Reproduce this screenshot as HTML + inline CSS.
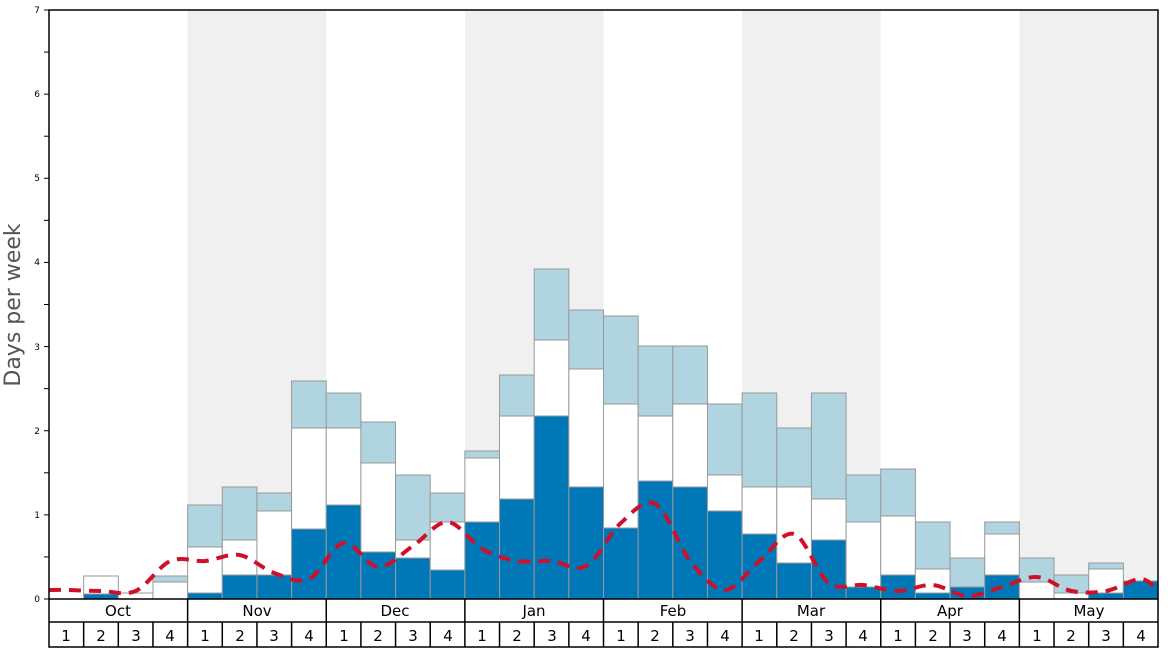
<!DOCTYPE html>
<html><head><meta charset="utf-8"><style>
body{margin:0;background:#fff}
svg{display:block;font-family:"DejaVu Sans","Liberation Sans",sans-serif}
</style></head><body>
<svg id="s" width="1168" height="648" viewBox="0 0 1168 648">
<g id="bg"></g><g id="bars"></g><g id="ln"></g><g id="ax"></g>
<text x="20" y="305" font-size="22" fill="#555" text-anchor="middle" transform="rotate(-90 20 305)">Days per week</text>
<g font-size="9" text-anchor="end" fill="#000">
<text x="40" y="602">0</text><text x="40" y="518">1</text><text x="40" y="434">2</text><text x="40" y="350">3</text><text x="40" y="265">4</text><text x="40" y="181">5</text><text x="40" y="97">6</text><text x="40" y="13">7</text>
</g>
<g font-size="15" text-anchor="middle" fill="#000">
<text x="118" y="616">Oct</text><text x="257" y="616">Nov</text><text x="395" y="616">Dec</text><text x="534" y="616">Jan</text><text x="673" y="616">Feb</text><text x="811" y="616">Mar</text><text x="950" y="616">Apr</text><text x="1089" y="616">May</text>
</g>
<g id="wk" font-size="15" text-anchor="middle" fill="#000">
<text x="66" y="641">1</text><text x="101" y="641">2</text><text x="136" y="641">3</text><text x="170" y="641">4</text>
<text x="205" y="641">1</text><text x="240" y="641">2</text><text x="274" y="641">3</text><text x="309" y="641">4</text>
<text x="344" y="641">1</text><text x="378" y="641">2</text><text x="413" y="641">3</text><text x="448" y="641">4</text>
<text x="482" y="641">1</text><text x="517" y="641">2</text><text x="552" y="641">3</text><text x="586" y="641">4</text>
<text x="621" y="641">1</text><text x="655" y="641">2</text><text x="690" y="641">3</text><text x="725" y="641">4</text>
<text x="759" y="641">1</text><text x="794" y="641">2</text><text x="829" y="641">3</text><text x="863" y="641">4</text>
<text x="898" y="641">1</text><text x="933" y="641">2</text><text x="967" y="641">3</text><text x="1002" y="641">4</text>
<text x="1037" y="641">1</text><text x="1071" y="641">2</text><text x="1106" y="641">3</text><text x="1141" y="641">4</text>
</g>
</svg>
<script>
var NS="http://www.w3.org/2000/svg";
function el(p,t,a){var e=document.createElementNS(NS,t);for(var k in a)e.setAttribute(k,a[k]);document.getElementById(p).appendChild(e);return e;}
var W=1109/32,X=function(i){return 49+i*W;};
[1,3,5,7].forEach(function(m){el("bg","rect",{x:X(m*4),y:10,width:W*4,height:589,fill:"#f0f0f0"});});
// [darkTop, whiteTop, lightTop] in pixel y (599 = none)
var d=[[599,599,599],[594,576,576],[599,593,593],[599,582,576],
[593,547,505],[575,540,487],[575,511,493],[529,428,381],
[505,428,393],[552,463,422],[558,540,475],[570,522,493],
[522,458,451],[499,416,375],[416,340,269],[487,369,310],
[528,404,316],[481,416,346],[487,404,346],[511,475,404],
[534,487,393],[563,487,428],[540,499,393],[587,522,475],
[575,516,469],[593,569,522],[587,587,558],[575,534,522],
[599,582,558],[599,593,575],[593,569,563],[581,581,581]];
d.forEach(function(v,i){var x=X(i);
if(v[2]<v[1])el("bars","rect",{x:x,y:v[2],width:W,height:v[1]-v[2],fill:"#b0d4e0",stroke:"#999","stroke-width":1});
if(v[1]<v[0])el("bars","rect",{x:x,y:v[1],width:W,height:v[0]-v[1],fill:"#fff",stroke:"#999","stroke-width":1});
if(v[0]<599)el("bars","rect",{x:x,y:v[0],width:W,height:599-v[0],fill:"#0077b6",stroke:"#999","stroke-width":1});
});
var ly=[590,591,591,561,561,555,573,579,543,567,546,522,549,561,561,566,523,504,561,590,561,534,583,585,591,585,596,587,577,591,591,579];
var pts=[[49,590]];ly.forEach(function(y,i){pts.push([X(i)+W/2,y]);});pts.push([1158,591]);
var p="M"+pts[0][0]+","+pts[0][1];
for(var i=0;i<pts.length-1;i++){var p0=pts[Math.max(0,i-1)],p1=pts[i],p2=pts[i+1],p3=pts[Math.min(pts.length-1,i+2)];
var c1=[p1[0]+(p2[0]-p0[0])/6,p1[1]+(p2[1]-p0[1])/6],c2=[p2[0]-(p3[0]-p1[0])/6,p2[1]-(p3[1]-p1[1])/6];
p+=" C"+c1+" "+c2+" "+p2;}
el("ln","path",{d:p,fill:"none",stroke:"#d0102a","stroke-width":4,"stroke-dasharray":"12,8"});
el("ax","rect",{x:49,y:10,width:1109,height:637,fill:"none",stroke:"#000","stroke-width":1.5});
el("ax","line",{x1:49,y1:599,x2:1158,y2:599,stroke:"#000","stroke-width":1.5});
el("ax","line",{x1:49,y1:622,x2:1158,y2:622,stroke:"#000","stroke-width":1.5});
for(var i=1;i<32;i++){var x=X(i);el("ax","line",{x1:x,y1:i%4==0?599:622,x2:x,y2:647,stroke:"#000","stroke-width":1.5});}
for(var t=0;t<=14;t++){var y=599-t*589/14;el("ax","line",{x1:44,y1:y,x2:49,y2:y,stroke:"#000","stroke-width":1});}
</script>
</body></html>
